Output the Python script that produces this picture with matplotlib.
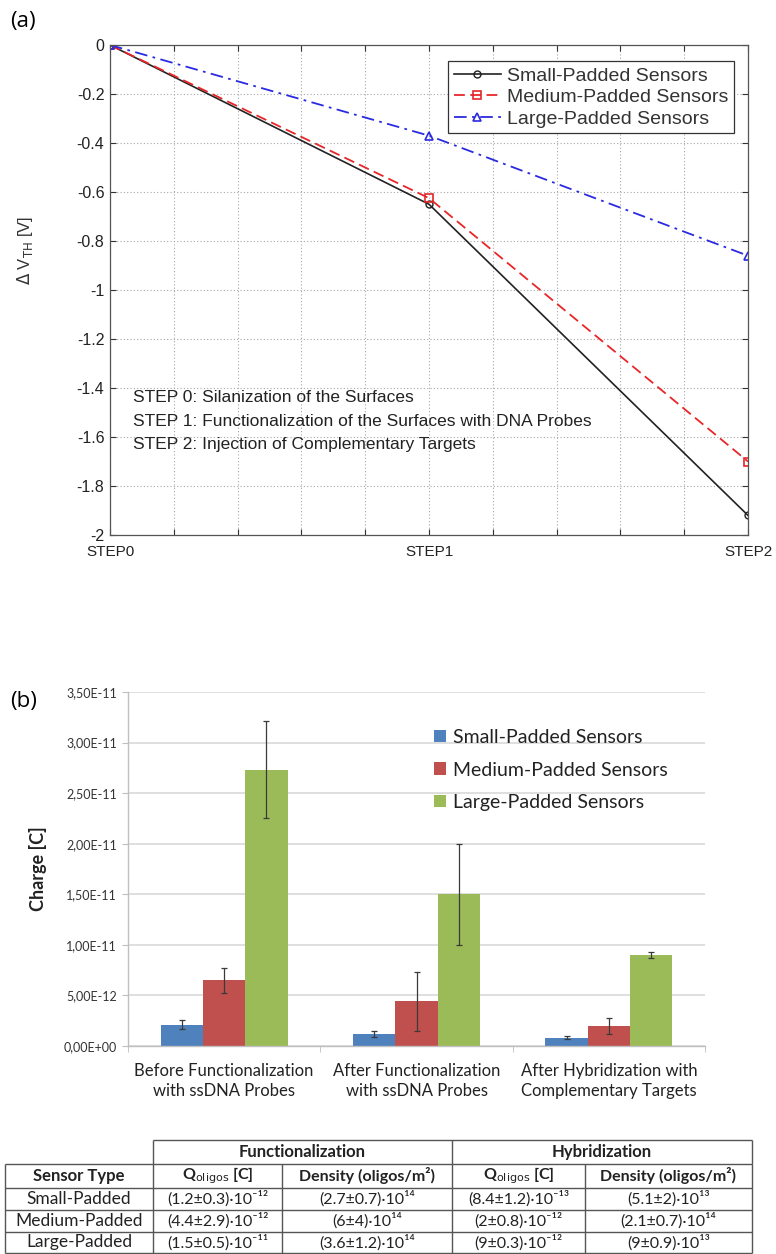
import matplotlib
matplotlib.use("Agg")
import matplotlib.pyplot as plt
import numpy as np

# ---- panel (a): threshold voltage shift per step ----
steps = ["STEP0", "STEP1", "STEP2"]
dvth_small = [0.0, -0.65, -1.92]
dvth_medium = [0.0, -0.625, -1.70]
dvth_large = [0.0, -0.37, -0.86]
step_notes = [
    "STEP 0: Silanization of the Surfaces",
    "STEP 1: Functionalization of the Surfaces with DNA Probes",
    "STEP 2: Injection of Complementary Targets",
]

# ---- panel (b): charge per stage ----
sensor_names = ["Small-Padded Sensors", "Medium-Padded Sensors", "Large-Padded Sensors"]
stage_labels = [
    "Before Functionalization\nwith ssDNA Probes",
    "After Functionalization\nwith ssDNA Probes",
    "After Hybridization with\nComplementary Targets",
]
charge_small = [2.1e-12, 1.2e-12, 8.4e-13]
charge_medium = [6.5e-12, 4.4e-12, 2.0e-12]
charge_large = [2.73e-11, 1.5e-11, 9.0e-12]
err_small = [0.45e-12, 0.3e-12, 1.2e-13]
err_medium = [1.25e-12, 2.9e-12, 0.8e-12]
err_large = [0.48e-11, 0.5e-11, 0.3e-12]

# ---- summary table ----
table_groups = ["Functionalization", "Hybridization"]
table_header = ["Sensor Type", r"Q$_{\mathrm{oligos}}$ [C]", "Density (oligos/m²)",
                r"Q$_{\mathrm{oligos}}$ [C]", "Density (oligos/m²)"]
table_rows = [
    ["Small-Padded", "(1.2±0.3)·10⁻¹²", "(2.7±0.7)·10¹⁴", "(8.4±1.2)·10⁻¹³", "(5.1±2)·10¹³"],
    ["Medium-Padded", "(4.4±2.9)·10⁻¹²", "(6±4)·10¹⁴", "(2±0.8)·10⁻¹²", "(2.1±0.7)·10¹⁴"],
    ["Large-Padded", "(1.5±0.5)·10⁻¹¹", "(3.6±1.2)·10¹⁴", "(9±0.3)·10⁻¹²", "(9±0.9)·10¹³"],
]

W, H = 776, 1254
fig = plt.figure(figsize=(W / 100, H / 100), dpi=100)
fig.patch.set_facecolor("white")


def px_axes(left, top, right, bottom):
    return fig.add_axes([left / W, 1 - bottom / H, (right - left) / W, (bottom - top) / H])


# ================= (a) =================
mfont = ["Liberation Sans", "DejaVu Sans"]
ax = px_axes(110, 45, 748, 535)
x = np.arange(len(steps))
ax.plot(x, dvth_small, "-", color="#222222", lw=1.2, marker="o", ms=5,
        mfc="none", mew=1.0, label=sensor_names[0])
ax.plot(x, dvth_medium, "--", color="#e8262a", lw=1.3, marker="s", ms=6,
        mfc="none", mew=1.2, dashes=(6, 3), label=sensor_names[1])
ax.plot(x, dvth_large, "-.", color="#2a2ae0", lw=1.3, marker="^", ms=6,
        mfc="none", mew=1.2, dashes=(7, 3, 1.5, 3), label=sensor_names[2])
ax.set_xlim(0, 2)
ax.set_ylim(-2, 0)
xt = np.round(np.arange(0, 2.001, 0.2), 1)
ax.set_xticks(xt)
ax.set_xticklabels([steps[int(v)] if abs(v - round(v)) < 1e-9 else "" for v in xt],
                   family=mfont, fontsize=11)
yt = np.round(np.arange(-2, 0.001, 0.2), 1)
ax.set_yticks(yt)
ax.set_yticklabels(["0" if v == 0 else f"{v:g}" for v in yt], family=mfont, fontsize=11.5)
ax.tick_params(direction="in", top=True, right=True, length=4, color="#333333",
               labelcolor="#222222")
ax.tick_params(axis="x", pad=7)
ax.tick_params(axis="y", pad=4)
ax.grid(True, linestyle=(0, (1, 2)), color="#a8a8a8", lw=0.8)
for s in ax.spines.values():
    s.set_color("#555555")
    s.set_linewidth(0.9)
ax.set_ylabel(r"$\Delta$ V$_{\mathrm{TH}}$ [V]", family=mfont, fontsize=12, color="#333333")
ax.yaxis.set_label_coords(-0.118, 0.58)
leg = ax.legend(loc="upper right", bbox_to_anchor=(0.993, 0.987), fancybox=False,
                edgecolor="#333333", framealpha=1, borderpad=0.3, handlelength=2.4,
                labelspacing=0.2, handletextpad=0.3, prop={"family": mfont, "size": 14})
leg.get_frame().set_linewidth(0.9)
for txt in leg.get_texts():
    txt.set_color("#333333")
for i, note in enumerate(step_notes):
    fig.text(133 / W, 1 - (398 + 23 * i) / H, note, family=mfont, fontsize=12.5,
             color="#222222", va="center", ha="left")

fig.text(10 / W, 1 - 22 / H, "(a)", fontsize=16, family=["Open Sans", "DejaVu Sans"],
         va="center", ha="left")

# ================= (b) =================
cfont = ["Lato", "DejaVu Sans"]
bx = px_axes(128, 692, 705, 1046)
colors = ["#4f81bd", "#c0504d", "#9bbb59"]
cx = np.arange(len(stage_labels))
bw = 0.22
series = [(charge_small, err_small), (charge_medium, err_medium), (charge_large, err_large)]
for k, (vals, errs) in enumerate(series):
    bx.bar(cx + (k - 1) * bw, vals, bw, color=colors[k], label=sensor_names[k], zorder=2,
           yerr=errs, error_kw=dict(ecolor="#3a3a3a", elinewidth=0.9, capsize=2.5,
                                    capthick=0.9, zorder=3))
bx.set_xlim(-0.5, 2.5)
bx.set_ylim(0, 3.5e-11)
yt_b = np.arange(0, 3.5e-11 + 1e-13, 5e-12)
bx.set_yticks(yt_b)
bx.set_yticklabels([f"{v:.2E}".replace(".", ",") for v in yt_b], family=cfont,
                   fontsize=9, color="#333333")
bx.set_xticks(cx)
bx.set_xticklabels(stage_labels, family=cfont, fontsize=12, color="#222222",
                   linespacing=1.35)
bx.set_xticks([-0.5, 0.5, 1.5, 2.5], minor=True)
bx.tick_params(axis="x", which="major", length=0, pad=12)
bx.tick_params(axis="x", which="minor", length=4, color="#bfbfbf")
bx.tick_params(axis="y", length=4, color="#bfbfbf", pad=4)
bx.grid(True, axis="y", color="#d9d9d9", lw=1.2, zorder=0)
bx.set_axisbelow(True)
for name in ["top", "right"]:
    bx.spines[name].set_visible(False)
for name in ["left", "bottom"]:
    bx.spines[name].set_color("#bfbfbf")
    bx.spines[name].set_linewidth(1.0)
bx.set_ylabel("Charge [C]", family=cfont, fontsize=13, fontweight="bold", color="#222222")
bx.yaxis.set_label_coords(-0.14, 0.5)
lg = bx.legend(loc="upper left", bbox_to_anchor=(0.5, 0.945), frameon=False,
               handlelength=0.6, handleheight=0.6, handletextpad=0.4, labelspacing=0.8,
               prop={"family": cfont, "size": 14})
for txt in lg.get_texts():
    txt.set_color("#222222")

fig.text(10 / W, 1 - 702 / H, "(b)", fontsize=16, family=["Open Sans", "DejaVu Sans"],
         va="center", ha="left")

# ================= table =================
tx = fig.add_axes([0, 0, 1, 1])
tx.set_xlim(0, W)
tx.set_ylim(H, 0)
tx.axis("off")
col_edges = [5, 153, 282, 452, 585, 752]
row_edges = [1140, 1164, 1188, 1210, 1232, 1253]
lc = "#555555"
lw = 1.0
# header row only covers the data columns
tx.hlines(row_edges[0], col_edges[1], col_edges[-1], color=lc, lw=lw)
tx.vlines([col_edges[1], col_edges[3], col_edges[5]], row_edges[0], row_edges[1], color=lc, lw=lw)
tx.hlines(row_edges[1:], col_edges[0], col_edges[-1], color=lc, lw=lw)
tx.vlines(col_edges, row_edges[1], row_edges[-1], color=lc, lw=lw)
ycen = [(row_edges[i] + row_edges[i + 1]) / 2 for i in range(len(row_edges) - 1)]
for g, name in enumerate(table_groups):
    x0, x1 = col_edges[1 + 2 * g], col_edges[3 + 2 * g]
    tx.text((x0 + x1) / 2, ycen[0], name, ha="center", va="center", family=cfont,
            fontsize=12, fontweight="bold", color="#222222")
for j, name in enumerate(table_header):
    tx.text((col_edges[j] + col_edges[j + 1]) / 2, ycen[1], name, ha="center", va="center",
            family=cfont, fontsize=12 if j == 0 else 11.5, fontweight="bold", color="#222222")
for i, row in enumerate(table_rows):
    for j, cell in enumerate(row):
        tx.text((col_edges[j] + col_edges[j + 1]) / 2, ycen[2 + i], cell, ha="center",
                va="center", family=cfont, fontsize=12.5 if j == 0 else 11.5,
                color="#222222")

fig.savefig("out.png", dpi=100)
